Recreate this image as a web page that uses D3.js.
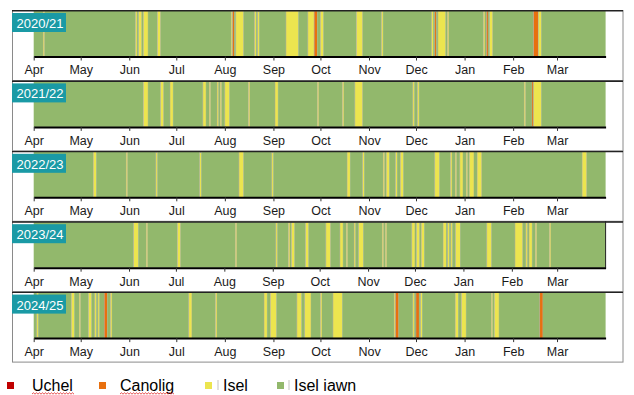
<!DOCTYPE html>
<html lang="cy">
<head>
    <meta charset="UTF-8">
    <title>Lefelau llygredd aer dyddiol</title>
    <style>
        body { margin: 0; background: #fff; }
        svg { display: block; font-family: Arial, "Liberation Sans", sans-serif; }
        .tick text { font-size: 12.5px; fill: #1a1a1a; }
        .tick line { stroke: #333; }
        .domain { stroke: #000; stroke-width: 2px; }
    </style>
    <script src="https://cdn.jsdelivr.net/npm/d3@7"></script>
</head>
<body>
    <svg width="634" height="395"></svg>

    <script>
        const seasons = ["2020/21", "2021/22", "2022/23", "2023/24", "2024/25"];
        const startYears = [2020, 2021, 2022, 2023, 2024];
        const monthLabels = ["Apr", "May", "Jun", "Jul", "Aug", "Sep", "Oct", "Nov", "Dec", "Jan", "Feb", "Mar"];
        const levels = ["Uchel", "Canolig", "Isel", "Isel iawn"];
        const levelColors = ["#c00000", "#e8700f", "#ece54f", "#92b86c"];

        // [first day (MM-DD), number of days, level]; every other day is "Isel iawn"
        const days2020 = [
            ["04-07", 1, "Isel"], ["06-05", 1, "Isel"], ["06-07", 2, "Isel"], ["06-10", 3, "Isel"], ["06-19", 2, "Isel"],
            ["08-05", 1, "Isel"], ["08-06", 1, "Canolig"], ["08-08", 5, "Isel"], ["08-20", 1, "Isel"], ["08-22", 1, "Isel"],
            ["09-09", 8, "Isel"], ["09-23", 4, "Isel"], ["09-27", 2, "Canolig"], ["10-01", 2, "Isel"],
            ["10-24", 4, "Isel"], ["11-09", 1, "Isel"],
            ["12-11", 1, "Isel"], ["12-13", 1, "Canolig"], ["12-15", 5, "Isel"], ["12-21", 1, "Isel"],
            ["01-13", 1, "Isel"], ["01-15", 1, "Canolig"], ["01-17", 2, "Isel"],
            ["02-14", 3, "Canolig"], ["02-17", 2, "Isel"]
        ];
        const days2021 = [
            ["06-10", 3, "Isel"], ["06-21", 2, "Isel"], ["06-27", 2, "Isel"],
            ["07-18", 2, "Isel"], ["07-22", 1, "Isel"], ["07-27", 1, "Isel"], ["07-29", 1, "Isel"], ["08-01", 3, "Isel"],
            ["08-16", 1, "Isel"], ["09-02", 2, "Isel"], ["09-29", 1, "Isel"], ["10-15", 1, "Isel"], ["10-23", 5, "Isel"],
            ["11-29", 1, "Isel"], ["12-02", 1, "Isel"],
            ["02-08", 1, "Isel"], ["02-13", 1, "Canolig"], ["02-14", 5, "Isel"]
        ];
        const days2022 = [
            ["05-09", 2, "Isel"], ["05-30", 1, "Isel"], ["06-18", 1, "Isel"], ["07-16", 1, "Isel"], ["08-10", 3, "Isel"],
            ["08-31", 1, "Isel"], ["10-18", 2, "Isel"], ["10-28", 1, "Isel"], ["11-10", 1, "Isel"], ["11-12", 2, "Isel"],
            ["11-18", 1, "Isel"], ["11-21", 2, "Isel"], ["12-13", 3, "Isel"], ["12-23", 1, "Isel"], ["12-26", 1, "Isel"],
            ["12-29", 2, "Isel"], ["01-02", 1, "Isel"], ["01-04", 3, "Isel"], ["01-09", 3, "Isel"], ["03-17", 3, "Isel"]
        ];
        const days2023 = [
            ["06-04", 3, "Isel"], ["06-12", 1, "Isel"], ["07-02", 2, "Isel"], ["08-08", 1, "Isel"], ["09-03", 1, "Isel"],
            ["09-11", 1, "Isel"], ["09-13", 2, "Isel"], ["09-22", 2, "Isel"], ["10-05", 3, "Isel"], ["10-14", 2, "Isel"],
            ["10-18", 1, "Isel"], ["10-23", 1, "Isel"], ["10-26", 3, "Isel"], ["11-10", 1, "Isel"], ["11-12", 1, "Isel"],
            ["11-29", 2, "Isel"], ["12-02", 2, "Isel"], ["12-05", 2, "Isel"], ["12-19", 2, "Isel"], ["12-22", 1, "Isel"],
            ["12-24", 1, "Isel"], ["12-27", 3, "Isel"], ["01-16", 3, "Isel"],
            ["02-03", 5, "Isel"], ["02-10", 1, "Isel"], ["02-12", 2, "Isel"], ["02-16", 1, "Isel"], ["02-25", 1, "Isel"]
        ];
        const days2024 = [
            ["04-03", 1, "Isel"], ["04-25", 2, "Isel"], ["04-30", 1, "Isel"], ["05-06", 2, "Isel"], ["05-10", 1, "Isel"],
            ["05-12", 1, "Isel"], ["05-16", 2, "Canolig"], ["05-20", 1, "Isel"], ["07-09", 2, "Isel"], ["07-26", 1, "Isel"],
            ["08-26", 2, "Isel"], ["08-30", 4, "Isel"], ["09-16", 3, "Isel"], ["09-21", 2, "Isel"], ["09-23", 2, "Isel"],
            ["10-01", 1, "Isel"], ["10-09", 6, "Isel"],
            ["11-17", 1, "Isel"], ["11-18", 2, "Canolig"], ["11-29", 1, "Isel"], ["12-01", 2, "Canolig"], ["12-04", 1, "Isel"],
            ["12-26", 2, "Isel"], ["12-30", 3, "Isel"], ["01-18", 1, "Isel"], ["01-20", 3, "Isel"], ["02-18", 2, "Canolig"]
        ];
        const episodes = [days2020, days2021, days2022, days2023, days2024];

        const svg = d3.select("svg");
        const color = d3.scaleOrdinal(levels, levelColors);

        seasons.forEach((season, i) => {
            const y0 = startYears[i];
            const start = new Date(y0, 3, 1);
            const end = new Date(y0 + 1, 3, 1);
            const x = d3.scaleTime().domain([start, end]).range([33.7, 605.6]);
            const top = 10 + i * 70.4;
            const g = svg.append("g");

            // level for each listed day
            const byDay = new Map();
            episodes[i].forEach(([md, n, level]) => {
                const [m, d] = md.split("-").map(Number);
                const first = new Date(m >= 4 ? y0 : y0 + 1, m - 1, d);
                d3.timeDay.range(first, d3.timeDay.offset(first, n)).forEach(t => byDay.set(+t, level));
            });

            // merge consecutive days of same level into runs
            const runs = [];
            d3.timeDay.range(start, end).forEach(t => {
                const level = byDay.get(+t) || "Isel iawn";
                const last = runs[runs.length - 1];
                if (last && last.level === level) last.end = d3.timeDay.offset(t, 1);
                else runs.push({level, start: t, end: d3.timeDay.offset(t, 1)});
            });

            // panel frame
            g.append("rect")
                .attr("x", 12.5).attr("y", top + 0.5)
                .attr("width", 610.5).attr("height", 70)
                .attr("fill", "none").attr("stroke", "#8a8a8a");

            g.selectAll(".run")
                .data(runs)
                .enter()
                .append("rect")
                .attr("x", d => x(d.start))
                .attr("y", top + 1)
                .attr("width", d => x(d.end) - x(d.start))
                .attr("height", 45.5)
                .attr("fill", d => color(d.level))
                .attr("stroke", d => d.level === "Isel iawn" ? "none" : "#aaa89c")
                .attr("stroke-width", 0.5);

            // dark top edge
            g.append("line")
                .attr("x1", 12).attr("x2", 623)
                .attr("y1", top + 0.8).attr("y2", top + 0.8)
                .attr("stroke", "#222").attr("stroke-width", 1.4);

            if (i === 3) {
                g.append("line")
                    .attr("x1", 605.6).attr("x2", 605.6)
                    .attr("y1", top).attr("y2", top + 46.5)
                    .attr("stroke", "#222").attr("stroke-width", 1);
            }

            g.append("g")
                .attr("transform", `translate(0,${top + 46.5})`)
                .call(d3.axisBottom(x)
                    .tickValues(d3.timeMonth.range(start, end))
                    .tickFormat((d, k) => monthLabels[k])
                    .tickSizeInner(4)
                    .tickSizeOuter(0)
                    .tickPadding(5));

            // season label
            g.append("rect")
                .attr("x", 12).attr("y", top + 3)
                .attr("width", 54).attr("height", 19)
                .attr("fill", "#1a9aa5");
            g.append("text")
                .attr("x", 16.5).attr("y", top + 18)
                .attr("fill", "#fff")
                .style("font-size", "13px")
                .text(season);
        });

        // legend
        const legendSquareX = [7, 99, 205, 277];
        const legendTextX = [32, 120, 223, 294];
        const legend = svg.append("g");
        levels.forEach((level, k) => {
            legend.append("rect")
                .attr("x", legendSquareX[k]).attr("y", 382)
                .attr("width", 7).attr("height", 7)
                .attr("fill", color(level));
            legend.append("text")
                .attr("x", legendTextX[k]).attr("y", 391)
                .style("font-size", "16px")
                .attr("fill", "#000")
                .text(level);
        });
        // small marks before the Isel labels
        [218, 289].forEach(lx => {
            legend.append("line")
                .attr("x1", lx).attr("x2", lx).attr("y1", 380).attr("y2", 390)
                .attr("stroke", "#aaa").attr("stroke-width", 0.7);
        });
        // spell-check squiggles under Uchel and Canolig
        [[32, 73], [120, 174]].forEach(([a, b]) => {
            let p = `M${a},394`;
            for (let xx = a, up = true; xx < b; xx += 1.5, up = !up) p += `L${xx + 1.5},${up ? 392.8 : 394.2}`;
            legend.append("path").attr("d", p)
                .attr("fill", "none").attr("stroke", "#e02020").attr("stroke-width", 0.8);
        });
    </script>
</body>
</html>
